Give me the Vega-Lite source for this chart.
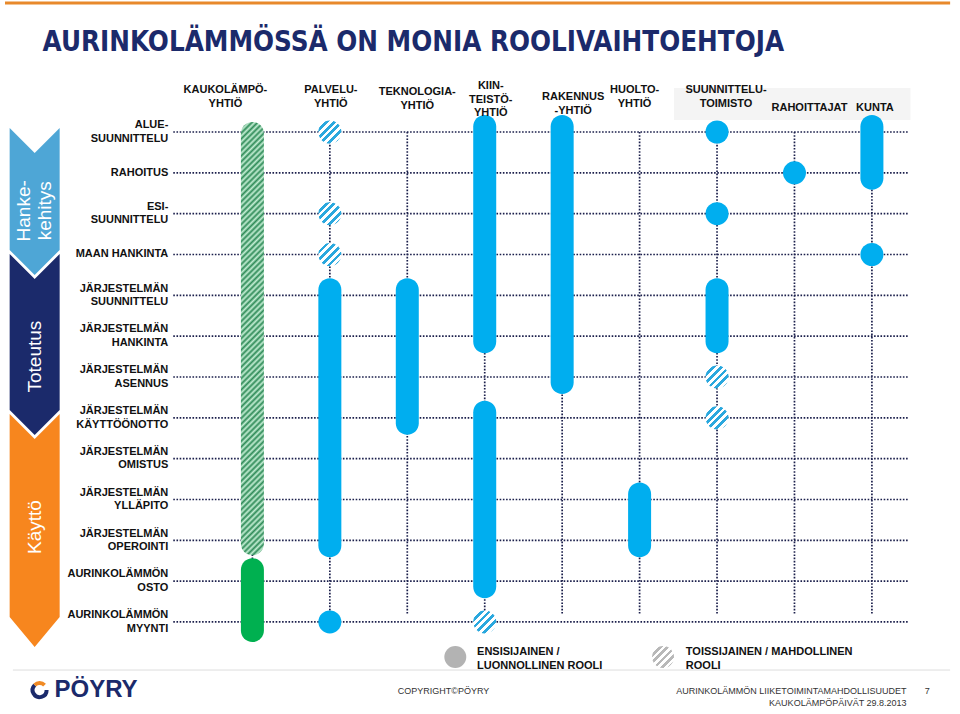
{
  "$schema": "https://vega.github.io/schema/vega-lite/v6.json",
  "width": 960,
  "height": 714,
  "padding": 0,
  "autosize": {"type": "fit", "contains": "padding"},
  "background": "white",
  "config": {"view": {"stroke": null}, "axis": {"disable": true}, "text": {"font": "Liberation Sans"}},
  "datasets": {
    "rows": [
      {"idx": 0, "label": "ALUE-\nSUUNNITTELU"},
      {"idx": 1, "label": "RAHOITUS"},
      {"idx": 2, "label": "ESI-\nSUUNNITTELU"},
      {"idx": 3, "label": "MAAN HANKINTA"},
      {"idx": 4, "label": "JÄRJESTELMÄN\nSUUNNITTELU"},
      {"idx": 5, "label": "JÄRJESTELMÄN\nHANKINTA"},
      {"idx": 6, "label": "JÄRJESTELMÄN\nASENNUS"},
      {"idx": 7, "label": "JÄRJESTELMÄN\nKÄYTTÖÖNOTTO"},
      {"idx": 8, "label": "JÄRJESTELMÄN\nOMISTUS"},
      {"idx": 9, "label": "JÄRJESTELMÄN\nYLLÄPITO"},
      {"idx": 10, "label": "JÄRJESTELMÄN\nOPEROINTI"},
      {"idx": 11, "label": "AURINKOLÄMMÖN\nOSTO"},
      {"idx": 12, "label": "AURINKOLÄMMÖN\nMYYNTI"}
    ],
    "cols": [
      {"col": 1, "actor": "KAUKOLÄMPÖ-\nYHTIÖ"},
      {"col": 2, "actor": "PALVELU-\nYHTIÖ"},
      {"col": 3, "actor": "TEKNOLOGIA-\nYHTIÖ"},
      {"col": 4, "actor": "KIIN-\nTEISTÖ-\nYHTIÖ"},
      {"col": 5, "actor": "RAKENNUS\n-YHTIÖ"},
      {"col": 6, "actor": "HUOLTO-\nYHTIÖ"},
      {"col": 7, "actor": "SUUNNITTELU-\nTOIMISTO"},
      {"col": 8, "actor": "RAHOITTAJAT"},
      {"col": 9, "actor": "KUNTA"}
    ],
    "roles": [
      {"col": 1, "from": 0, "to": 10, "role": "secondary"},
      {"col": 1, "from": 11, "to": 12, "role": "primary"},
      {"col": 2, "from": 0, "to": 0, "role": "secondary"},
      {"col": 2, "from": 2, "to": 2, "role": "secondary"},
      {"col": 2, "from": 3, "to": 3, "role": "secondary"},
      {"col": 2, "from": 4, "to": 10, "role": "primary"},
      {"col": 2, "from": 12, "to": 12, "role": "primary"},
      {"col": 3, "from": 4, "to": 7, "role": "primary"},
      {"col": 4, "from": 0, "to": 5, "role": "primary"},
      {"col": 4, "from": 7, "to": 11, "role": "primary"},
      {"col": 4, "from": 12, "to": 12, "role": "secondary"},
      {"col": 5, "from": 0, "to": 6, "role": "primary"},
      {"col": 6, "from": 9, "to": 10, "role": "primary"},
      {"col": 7, "from": 0, "to": 0, "role": "primary"},
      {"col": 7, "from": 2, "to": 2, "role": "primary"},
      {"col": 7, "from": 4, "to": 5, "role": "primary"},
      {"col": 7, "from": 6, "to": 6, "role": "secondary"},
      {"col": 7, "from": 7, "to": 7, "role": "secondary"},
      {"col": 8, "from": 1, "to": 1, "role": "primary"},
      {"col": 9, "from": 0, "to": 1, "role": "primary"},
      {"col": 9, "from": 3, "to": 3, "role": "primary"}
    ],
    "legend": [
      {"role": "primary", "label": "ENSISIJAINEN /\nLUONNOLLINEN ROOLI"},
      {"role": "secondary", "label": "TOISSIJAINEN / MAHDOLLINEN\nROOLI"}
    ]
  },
  "layer": [
    {
      "data": {"values": [{"t": "band"}]},
      "mark": {"type": "rect", "color": "#f4f4f4"},
      "encoding": {
        "x": {"datum": 6.444, "type": "quantitative", "scale": {"domain": [-2.195, 10.073], "nice": false, "zero": false}, "axis": null},
        "x2": {"datum": 9.498},
        "y": {"datum": -1.078, "type": "quantitative", "scale": {"domain": [-3.233, 14.254], "reverse": true, "nice": false, "zero": false}, "axis": null},
        "y2": {"datum": -0.294}
      }
    },
    {
      "data": {"name": "rows"},
      "mark": {"type": "rule", "color": "#1b1f4b", "strokeWidth": 1.7, "strokeDash": [1.6, 1.6]},
      "encoding": {
        "y": {"field": "idx", "type": "quantitative", "scale": {"domain": [-3.233, 14.254], "reverse": true, "nice": false, "zero": false}, "axis": null},
        "x": {"datum": -0.022, "type": "quantitative", "scale": {"domain": [-2.195, 10.073], "nice": false, "zero": false}, "axis": null},
        "x2": {"datum": 9.473}
      }
    },
    {
      "data": {"name": "cols"},
      "mark": {"type": "rule", "color": "#1b1f4b", "strokeWidth": 1.7, "strokeDash": [1.6, 1.6]},
      "encoding": {
        "x": {"field": "col", "type": "quantitative"},
        "y": {"datum": 0, "type": "quantitative"},
        "y2": {"datum": 11.8}
      }
    },
    {
      "data": {"name": "roles"},
      "transform": [{"filter": "datum.role == 'primary' && datum.from < datum.to && datum.col != 1"}],
      "mark": {"type": "bar", "color": "#00aeef", "width": 23, "cornerRadius": 11.5, "yOffset": -17, "y2Offset": 17},
      "encoding": {
        "x": {"field": "col", "type": "quantitative"},
        "y": {"field": "from", "type": "quantitative"},
        "y2": {"field": "to"}
      }
    },
    {
      "data": {"name": "roles"},
      "transform": [{"filter": "datum.role == 'primary' && datum.from < datum.to && datum.col == 1"}],
      "mark": {"type": "bar", "color": "#00b050", "width": 23, "cornerRadius": 11.5, "yOffset": -23, "y2Offset": 20},
      "encoding": {
        "x": {"field": "col", "type": "quantitative"},
        "y": {"field": "from", "type": "quantitative"},
        "y2": {"field": "to"}
      }
    },
    {
      "data": {"name": "roles"},
      "transform": [{"filter": "datum.role == 'secondary' && datum.from < datum.to"}],
      "mark": {"type": "bar", "width": 23, "cornerRadius": 11.5, "yOffset": -10, "y2Offset": 15,
        "fill": {"gradient": "linear", "x1": 0, "y1": 0, "x2": 0.0556, "y2": 1.05, "stops": [
          {"offset":0,"color":"#2f8b58"},{"offset":0.00625,"color":"#c4eed4"},{"offset":0.0125,"color":"#2f8b58"},{"offset":0.01875,"color":"#c4eed4"},{"offset":0.025,"color":"#2f8b58"},{"offset":0.03125,"color":"#c4eed4"},{"offset":0.0375,"color":"#2f8b58"},{"offset":0.04375,"color":"#c4eed4"},
          {"offset":0.05,"color":"#2f8b58"},{"offset":0.05625,"color":"#c4eed4"},{"offset":0.0625,"color":"#2f8b58"},{"offset":0.06875,"color":"#c4eed4"},{"offset":0.075,"color":"#2f8b58"},{"offset":0.08125,"color":"#c4eed4"},{"offset":0.0875,"color":"#2f8b58"},{"offset":0.09375,"color":"#c4eed4"},
          {"offset":0.1,"color":"#2f8b58"},{"offset":0.10625,"color":"#c4eed4"},{"offset":0.1125,"color":"#2f8b58"},{"offset":0.11875,"color":"#c4eed4"},{"offset":0.125,"color":"#2f8b58"},{"offset":0.13125,"color":"#c4eed4"},{"offset":0.1375,"color":"#2f8b58"},{"offset":0.14375,"color":"#c4eed4"},
          {"offset":0.15,"color":"#2f8b58"},{"offset":0.15625,"color":"#c4eed4"},{"offset":0.1625,"color":"#2f8b58"},{"offset":0.16875,"color":"#c4eed4"},{"offset":0.175,"color":"#2f8b58"},{"offset":0.18125,"color":"#c4eed4"},{"offset":0.1875,"color":"#2f8b58"},{"offset":0.19375,"color":"#c4eed4"},
          {"offset":0.2,"color":"#2f8b58"},{"offset":0.20625,"color":"#c4eed4"},{"offset":0.2125,"color":"#2f8b58"},{"offset":0.21875,"color":"#c4eed4"},{"offset":0.225,"color":"#2f8b58"},{"offset":0.23125,"color":"#c4eed4"},{"offset":0.2375,"color":"#2f8b58"},{"offset":0.24375,"color":"#c4eed4"},
          {"offset":0.25,"color":"#2f8b58"},{"offset":0.25625,"color":"#c4eed4"},{"offset":0.2625,"color":"#2f8b58"},{"offset":0.26875,"color":"#c4eed4"},{"offset":0.275,"color":"#2f8b58"},{"offset":0.28125,"color":"#c4eed4"},{"offset":0.2875,"color":"#2f8b58"},{"offset":0.29375,"color":"#c4eed4"},
          {"offset":0.3,"color":"#2f8b58"},{"offset":0.30625,"color":"#c4eed4"},{"offset":0.3125,"color":"#2f8b58"},{"offset":0.31875,"color":"#c4eed4"},{"offset":0.325,"color":"#2f8b58"},{"offset":0.33125,"color":"#c4eed4"},{"offset":0.3375,"color":"#2f8b58"},{"offset":0.34375,"color":"#c4eed4"},
          {"offset":0.35,"color":"#2f8b58"},{"offset":0.35625,"color":"#c4eed4"},{"offset":0.3625,"color":"#2f8b58"},{"offset":0.36875,"color":"#c4eed4"},{"offset":0.375,"color":"#2f8b58"},{"offset":0.38125,"color":"#c4eed4"},{"offset":0.3875,"color":"#2f8b58"},{"offset":0.39375,"color":"#c4eed4"},
          {"offset":0.4,"color":"#2f8b58"},{"offset":0.40625,"color":"#c4eed4"},{"offset":0.4125,"color":"#2f8b58"},{"offset":0.41875,"color":"#c4eed4"},{"offset":0.425,"color":"#2f8b58"},{"offset":0.43125,"color":"#c4eed4"},{"offset":0.4375,"color":"#2f8b58"},{"offset":0.44375,"color":"#c4eed4"},
          {"offset":0.45,"color":"#2f8b58"},{"offset":0.45625,"color":"#c4eed4"},{"offset":0.4625,"color":"#2f8b58"},{"offset":0.46875,"color":"#c4eed4"},{"offset":0.475,"color":"#2f8b58"},{"offset":0.48125,"color":"#c4eed4"},{"offset":0.4875,"color":"#2f8b58"},{"offset":0.49375,"color":"#c4eed4"},
          {"offset":0.5,"color":"#2f8b58"},{"offset":0.50625,"color":"#c4eed4"},{"offset":0.5125,"color":"#2f8b58"},{"offset":0.51875,"color":"#c4eed4"},{"offset":0.525,"color":"#2f8b58"},{"offset":0.53125,"color":"#c4eed4"},{"offset":0.5375,"color":"#2f8b58"},{"offset":0.54375,"color":"#c4eed4"},
          {"offset":0.55,"color":"#2f8b58"},{"offset":0.55625,"color":"#c4eed4"},{"offset":0.5625,"color":"#2f8b58"},{"offset":0.56875,"color":"#c4eed4"},{"offset":0.575,"color":"#2f8b58"},{"offset":0.58125,"color":"#c4eed4"},{"offset":0.5875,"color":"#2f8b58"},{"offset":0.59375,"color":"#c4eed4"},
          {"offset":0.6,"color":"#2f8b58"},{"offset":0.60625,"color":"#c4eed4"},{"offset":0.6125,"color":"#2f8b58"},{"offset":0.61875,"color":"#c4eed4"},{"offset":0.625,"color":"#2f8b58"},{"offset":0.63125,"color":"#c4eed4"},{"offset":0.6375,"color":"#2f8b58"},{"offset":0.64375,"color":"#c4eed4"},
          {"offset":0.65,"color":"#2f8b58"},{"offset":0.65625,"color":"#c4eed4"},{"offset":0.6625,"color":"#2f8b58"},{"offset":0.66875,"color":"#c4eed4"},{"offset":0.675,"color":"#2f8b58"},{"offset":0.68125,"color":"#c4eed4"},{"offset":0.6875,"color":"#2f8b58"},{"offset":0.69375,"color":"#c4eed4"},
          {"offset":0.7,"color":"#2f8b58"},{"offset":0.70625,"color":"#c4eed4"},{"offset":0.7125,"color":"#2f8b58"},{"offset":0.71875,"color":"#c4eed4"},{"offset":0.725,"color":"#2f8b58"},{"offset":0.73125,"color":"#c4eed4"},{"offset":0.7375,"color":"#2f8b58"},{"offset":0.74375,"color":"#c4eed4"},
          {"offset":0.75,"color":"#2f8b58"},{"offset":0.75625,"color":"#c4eed4"},{"offset":0.7625,"color":"#2f8b58"},{"offset":0.76875,"color":"#c4eed4"},{"offset":0.775,"color":"#2f8b58"},{"offset":0.78125,"color":"#c4eed4"},{"offset":0.7875,"color":"#2f8b58"},{"offset":0.79375,"color":"#c4eed4"},
          {"offset":0.8,"color":"#2f8b58"},{"offset":0.80625,"color":"#c4eed4"},{"offset":0.8125,"color":"#2f8b58"},{"offset":0.81875,"color":"#c4eed4"},{"offset":0.825,"color":"#2f8b58"},{"offset":0.83125,"color":"#c4eed4"},{"offset":0.8375,"color":"#2f8b58"},{"offset":0.84375,"color":"#c4eed4"},
          {"offset":0.85,"color":"#2f8b58"},{"offset":0.85625,"color":"#c4eed4"},{"offset":0.8625,"color":"#2f8b58"},{"offset":0.86875,"color":"#c4eed4"},{"offset":0.875,"color":"#2f8b58"},{"offset":0.88125,"color":"#c4eed4"},{"offset":0.8875,"color":"#2f8b58"},{"offset":0.89375,"color":"#c4eed4"},
          {"offset":0.9,"color":"#2f8b58"},{"offset":0.90625,"color":"#c4eed4"},{"offset":0.9125,"color":"#2f8b58"},{"offset":0.91875,"color":"#c4eed4"},{"offset":0.925,"color":"#2f8b58"},{"offset":0.93125,"color":"#c4eed4"},{"offset":0.9375,"color":"#2f8b58"},{"offset":0.94375,"color":"#c4eed4"},
          {"offset":0.95,"color":"#2f8b58"},{"offset":0.95625,"color":"#c4eed4"},{"offset":0.9625,"color":"#2f8b58"},{"offset":0.96875,"color":"#c4eed4"},{"offset":0.975,"color":"#2f8b58"},{"offset":0.98125,"color":"#c4eed4"},{"offset":0.9875,"color":"#2f8b58"},{"offset":0.99375,"color":"#c4eed4"},
          {"offset":1,"color":"#2f8b58"}
        ]}},
      "encoding": {
        "x": {"field": "col", "type": "quantitative"},
        "y": {"field": "from", "type": "quantitative"},
        "y2": {"field": "to"}
      }
    },
    {
      "data": {"name": "roles"},
      "transform": [{"filter": "datum.role == 'primary' && datum.from == datum.to"}],
      "mark": {"type": "point", "shape": "circle", "filled": true, "opacity": 1, "color": "#00aeef", "size": 529},
      "encoding": {
        "x": {"field": "col", "type": "quantitative"},
        "y": {"field": "from", "type": "quantitative"}
      }
    },
    {
      "data": {"name": "roles"},
      "transform": [{"filter": "datum.role == 'secondary' && datum.from == datum.to"}],
      "mark": {"type": "point", "shape": "circle", "filled": true, "opacity": 1, "size": 529, "strokeWidth": 0,
        "fill": {"gradient": "linear", "x1": 0, "y1": 0, "x2": 1, "y2": 1, "stops": [
          {"offset":0,"color":"#2aa8de"},{"offset":0.083,"color":"#2aa8de"},{"offset":0.083,"color":"#ffffff"},{"offset":0.167,"color":"#ffffff"},
          {"offset":0.167,"color":"#2aa8de"},{"offset":0.25,"color":"#2aa8de"},{"offset":0.25,"color":"#ffffff"},{"offset":0.333,"color":"#ffffff"},
          {"offset":0.333,"color":"#2aa8de"},{"offset":0.417,"color":"#2aa8de"},{"offset":0.417,"color":"#ffffff"},{"offset":0.5,"color":"#ffffff"},
          {"offset":0.5,"color":"#2aa8de"},{"offset":0.583,"color":"#2aa8de"},{"offset":0.583,"color":"#ffffff"},{"offset":0.667,"color":"#ffffff"},
          {"offset":0.667,"color":"#2aa8de"},{"offset":0.75,"color":"#2aa8de"},{"offset":0.75,"color":"#ffffff"},{"offset":0.833,"color":"#ffffff"},
          {"offset":0.833,"color":"#2aa8de"},{"offset":0.917,"color":"#2aa8de"},{"offset":0.917,"color":"#ffffff"},{"offset":1,"color":"#ffffff"}
        ]}},
      "encoding": {
        "x": {"field": "col", "type": "quantitative"},
        "y": {"field": "from", "type": "quantitative"}
      }
    },
    {
      "data": {"name": "rows"},
      "transform": [{"filter": "indexof(datum.label, '\\n') >= 0"}],
      "mark": {"type": "text", "align": "right", "baseline": "middle", "fontSize": 11, "fontWeight": "bold", "color": "#111111", "lineBreak": "\n", "lineHeight": 13.5, "dy": -6.75},
      "encoding": {
        "x": {"datum": -0.086, "type": "quantitative"},
        "y": {"field": "idx", "type": "quantitative"},
        "text": {"field": "label"}
      }
    },
    {
      "data": {"name": "rows"},
      "transform": [{"filter": "indexof(datum.label, '\\n') < 0"}],
      "mark": {"type": "text", "align": "right", "baseline": "middle", "fontSize": 11, "fontWeight": "bold", "color": "#111111"},
      "encoding": {
        "x": {"datum": -0.086, "type": "quantitative"},
        "y": {"field": "idx", "type": "quantitative"},
        "text": {"field": "label"}
      }
    },
    {
      "data": {"name": "cols"},
      "transform": [{"filter": "datum.col == 1"}],
      "mark": {"type": "text", "align": "center", "baseline": "middle", "fontSize": 11, "fontWeight": "bold", "color": "#111111", "lineBreak": "\n", "lineHeight": 14, "dx": -27, "dy": -7},
      "encoding": {"x": {"field": "col", "type": "quantitative"}, "y": {"datum": -0.857, "type": "quantitative"}, "text": {"field": "actor"}}
    },
    {
      "data": {"name": "cols"},
      "transform": [{"filter": "datum.col == 2"}],
      "mark": {"type": "text", "align": "center", "baseline": "middle", "fontSize": 11, "fontWeight": "bold", "color": "#111111", "lineBreak": "\n", "lineHeight": 14, "dx": 1, "dy": -7},
      "encoding": {"x": {"field": "col", "type": "quantitative"}, "y": {"datum": -0.857, "type": "quantitative"}, "text": {"field": "actor"}}
    },
    {
      "data": {"name": "cols"},
      "transform": [{"filter": "datum.col == 3"}],
      "mark": {"type": "text", "align": "center", "baseline": "middle", "fontSize": 11, "fontWeight": "bold", "color": "#111111", "lineBreak": "\n", "lineHeight": 14, "dx": 10, "dy": -7},
      "encoding": {"x": {"field": "col", "type": "quantitative"}, "y": {"datum": -0.82, "type": "quantitative"}, "text": {"field": "actor"}}
    },
    {
      "data": {"name": "cols"},
      "transform": [{"filter": "datum.col == 4"}],
      "mark": {"type": "text", "align": "center", "baseline": "middle", "fontSize": 11, "fontWeight": "bold", "color": "#111111", "lineBreak": "\n", "lineHeight": 13.5, "dx": 6, "dy": -13.5},
      "encoding": {"x": {"field": "col", "type": "quantitative"}, "y": {"datum": -0.796, "type": "quantitative"}, "text": {"field": "actor"}}
    },
    {
      "data": {"name": "cols"},
      "transform": [{"filter": "datum.col == 5"}],
      "mark": {"type": "text", "align": "center", "baseline": "middle", "fontSize": 11, "fontWeight": "bold", "color": "#111111", "lineBreak": "\n", "lineHeight": 14, "dx": 11, "dy": -7},
      "encoding": {"x": {"field": "col", "type": "quantitative"}, "y": {"datum": -0.698, "type": "quantitative"}, "text": {"field": "actor"}}
    },
    {
      "data": {"name": "cols"},
      "transform": [{"filter": "datum.col == 6"}],
      "mark": {"type": "text", "align": "center", "baseline": "middle", "fontSize": 11, "fontWeight": "bold", "color": "#111111", "lineBreak": "\n", "lineHeight": 14, "dx": -5, "dy": -7},
      "encoding": {"x": {"field": "col", "type": "quantitative"}, "y": {"datum": -0.857, "type": "quantitative"}, "text": {"field": "actor"}}
    },
    {
      "data": {"name": "cols"},
      "transform": [{"filter": "datum.col == 7"}],
      "mark": {"type": "text", "align": "center", "baseline": "middle", "fontSize": 11, "fontWeight": "bold", "color": "#111111", "lineBreak": "\n", "lineHeight": 14, "dx": 9, "dy": -7},
      "encoding": {"x": {"field": "col", "type": "quantitative"}, "y": {"datum": -0.857, "type": "quantitative"}, "text": {"field": "actor"}}
    },
    {
      "data": {"name": "cols"},
      "transform": [{"filter": "datum.col == 8"}],
      "mark": {"type": "text", "align": "center", "baseline": "middle", "fontSize": 11, "fontWeight": "bold", "color": "#111111", "dx": 15},
      "encoding": {"x": {"field": "col", "type": "quantitative"}, "y": {"datum": -0.588, "type": "quantitative"}, "text": {"field": "actor"}}
    },
    {
      "data": {"name": "cols"},
      "transform": [{"filter": "datum.col == 9"}],
      "mark": {"type": "text", "align": "center", "baseline": "middle", "fontSize": 11, "fontWeight": "bold", "color": "#111111", "dx": 3},
      "encoding": {"x": {"field": "col", "type": "quantitative"}, "y": {"datum": -0.588, "type": "quantitative"}, "text": {"field": "actor"}}
    },
    {
      "data": {"values": [{"phase": "Hanke-\nkehitys"}]},
      "mark": {"type": "point", "filled": true, "opacity": 1, "color": "#4ea6d6", "strokeWidth": 0, "size": 2500,
        "shape": "M-1,-2.88L0,-1.88L1,-2.88L1,2L0,3L-1,2Z"},
      "encoding": {"x": {"datum": -1.812, "type": "quantitative"}, "y": {"datum": 1.665, "type": "quantitative"}}
    },
    {
      "data": {"values": [{"phase": "Toteutus"}]},
      "mark": {"type": "point", "filled": true, "opacity": 1, "color": "#1b2a6b", "strokeWidth": 0, "size": 2500,
        "shape": "M-1,-3.62L0,-2.62L1,-3.62L1,2.62L0,3.62L-1,2.62Z"},
      "encoding": {"x": {"datum": -1.812, "type": "quantitative"}, "y": {"datum": 5.204, "type": "quantitative"}}
    },
    {
      "data": {"values": [{"phase": "Käyttö"}]},
      "mark": {"type": "point", "filled": true, "opacity": 1, "color": "#f7861e", "strokeWidth": 0, "size": 2500,
        "shape": "M-1,-4.66L0,-3.66L1,-4.66L1,3.46L0,4.66L-1,3.46Z"},
      "encoding": {"x": {"datum": -1.812, "type": "quantitative"}, "y": {"datum": 9.76, "type": "quantitative"}}
    },
    {
      "data": {"values": [{"phase": "Hanke-\nkehitys"}]},
      "mark": {"type": "text", "angle": 270, "align": "center", "baseline": "middle", "fontSize": 19, "color": "white", "lineBreak": "\n", "lineHeight": 21, "dy": -10.5},
      "encoding": {"x": {"datum": -1.812, "type": "quantitative"}, "y": {"datum": 1.93, "type": "quantitative"}, "text": {"field": "phase"}}
    },
    {
      "data": {"values": [{"phase": "Toteutus"}]},
      "mark": {"type": "text", "angle": 270, "align": "center", "baseline": "middle", "fontSize": 19, "color": "white"},
      "encoding": {"x": {"datum": -1.812, "type": "quantitative"}, "y": {"datum": 5.5, "type": "quantitative"}, "text": {"field": "phase"}}
    },
    {
      "data": {"values": [{"phase": "Käyttö"}]},
      "mark": {"type": "text", "angle": 270, "align": "center", "baseline": "middle", "fontSize": 19, "color": "white"},
      "encoding": {"x": {"datum": -1.812, "type": "quantitative"}, "y": {"datum": 9.674, "type": "quantitative"}, "text": {"field": "phase"}}
    },
    {
      "data": {"values": [{"t": "top"}]},
      "mark": {"type": "rule", "color": "#e8892b", "strokeWidth": 3},
      "encoding": {"x": {"datum": -2.195, "type": "quantitative"}, "x2": {"datum": 10.01}, "y": {"datum": -3.16, "type": "quantitative"}}
    },
    {
      "data": {"values": [{"t": "AURINKOLÄMMÖSSÄ ON MONIA ROOLIVAIHTOEHTOJA"}]},
      "mark": {"type": "text", "align": "left", "baseline": "middle", "font": "'DejaVu Sans Condensed', 'Liberation Sans', sans-serif", "fontSize": 27.5, "fontWeight": "bold", "color": "#1b2a6b", "dx": -4},
      "encoding": {"x": {"datum": -1.658, "type": "quantitative"}, "y": {"datum": -2.18, "type": "quantitative"}, "text": {"field": "t"}}
    },
    {
      "data": {"name": "legend"},
      "transform": [{"filter": "datum.role == 'primary'"}],
      "mark": {"type": "point", "shape": "circle", "filled": true, "opacity": 1, "color": "#b3b3b3", "size": 480},
      "encoding": {"x": {"datum": 3.62, "type": "quantitative"}, "y": {"datum": 12.858, "type": "quantitative"}}
    },
    {
      "data": {"name": "legend"},
      "transform": [{"filter": "datum.role == 'secondary'"}],
      "mark": {"type": "point", "shape": "circle", "filled": true, "opacity": 1, "size": 480, "strokeWidth": 0,
        "fill": {"gradient": "linear", "x1": 0, "y1": 0, "x2": 1, "y2": 1, "stops": [
          {"offset":0,"color":"#b8b8b8"},{"offset":0.083,"color":"#b8b8b8"},{"offset":0.083,"color":"#ffffff"},{"offset":0.167,"color":"#ffffff"},
          {"offset":0.167,"color":"#b8b8b8"},{"offset":0.25,"color":"#b8b8b8"},{"offset":0.25,"color":"#ffffff"},{"offset":0.333,"color":"#ffffff"},
          {"offset":0.333,"color":"#b8b8b8"},{"offset":0.417,"color":"#b8b8b8"},{"offset":0.417,"color":"#ffffff"},{"offset":0.5,"color":"#ffffff"},
          {"offset":0.5,"color":"#b8b8b8"},{"offset":0.583,"color":"#b8b8b8"},{"offset":0.583,"color":"#ffffff"},{"offset":0.667,"color":"#ffffff"},
          {"offset":0.667,"color":"#b8b8b8"},{"offset":0.75,"color":"#b8b8b8"},{"offset":0.75,"color":"#ffffff"},{"offset":0.833,"color":"#ffffff"},
          {"offset":0.833,"color":"#b8b8b8"},{"offset":0.917,"color":"#b8b8b8"},{"offset":0.917,"color":"#ffffff"},{"offset":1,"color":"#ffffff"}
        ]}},
      "encoding": {"x": {"datum": 6.303, "type": "quantitative"}, "y": {"datum": 12.858, "type": "quantitative"}}
    },
    {
      "data": {"name": "legend"},
      "transform": [{"filter": "datum.role == 'primary'"}],
      "mark": {"type": "text", "align": "left", "baseline": "middle", "fontSize": 11, "fontWeight": "bold", "color": "#111111", "lineBreak": "\n", "lineHeight": 14, "dy": -7},
      "encoding": {"x": {"datum": 3.901, "type": "quantitative"}, "y": {"datum": 12.907, "type": "quantitative"}, "text": {"field": "label"}}
    },
    {
      "data": {"name": "legend"},
      "transform": [{"filter": "datum.role == 'secondary'"}],
      "mark": {"type": "text", "align": "left", "baseline": "middle", "fontSize": 11, "fontWeight": "bold", "color": "#111111", "lineBreak": "\n", "lineHeight": 14, "dy": -7},
      "encoding": {"x": {"datum": 6.597, "type": "quantitative"}, "y": {"datum": 12.907, "type": "quantitative"}, "text": {"field": "label"}}
    },
    {
      "data": {"values": [{"t": "sep"}]},
      "mark": {"type": "rule", "color": "#dddddd", "strokeWidth": 1},
      "encoding": {"x": {"datum": -2.093, "type": "quantitative"}, "x2": {"datum": 10.01}, "y": {"datum": 13.177, "type": "quantitative"}}
    },
    {
      "data": {"values": [{"t": "COPYRIGHT©PÖYRY"}]},
      "mark": {"type": "text", "align": "left", "baseline": "middle", "fontSize": 9, "color": "#333333"},
      "encoding": {"x": {"datum": 2.878, "type": "quantitative"}, "y": {"datum": 13.691, "type": "quantitative"}, "text": {"field": "t"}}
    },
    {
      "data": {"values": [{"t": "AURINKOLÄMMÖN LIIKETOIMINTAMAHDOLLISUUDET\nKAUKOLÄMPÖPÄIVÄT 29.8.2013"}]},
      "mark": {"type": "text", "align": "right", "baseline": "middle", "fontSize": 9, "color": "#333333", "lineBreak": "\n", "lineHeight": 12},
      "encoding": {"x": {"datum": 9.447, "type": "quantitative"}, "y": {"datum": 13.691, "type": "quantitative"}, "text": {"field": "t"}}
    },
    {
      "data": {"values": [{"t": "7"}]},
      "mark": {"type": "text", "align": "center", "baseline": "middle", "fontSize": 9, "color": "#333333"},
      "encoding": {"x": {"datum": 9.716, "type": "quantitative"}, "y": {"datum": 13.691, "type": "quantitative"}, "text": {"field": "t"}}
    },
    {
      "data": {"values": [{"t": "PÖYRY"}]},
      "mark": {"type": "text", "align": "left", "baseline": "middle", "fontSize": 24, "fontWeight": "bold", "color": "#1b2a6b"},
      "encoding": {"x": {"datum": -1.556, "type": "quantitative"}, "y": {"datum": 13.666, "type": "quantitative"}, "text": {"field": "t"}}
    },
    {
      "data": {"values": [{"t": "logo"}]},
      "mark": {"type": "point", "filled": false, "opacity": 1, "color": "#1b2a6b", "strokeWidth": 4, "size": 196, "shape": "M1,0A1,1 0 1 1 -0.7,-0.7"},
      "encoding": {"x": {"datum": -1.748, "type": "quantitative"}, "y": {"datum": 13.666, "type": "quantitative"}}
    },
    {
      "data": {"values": [{"t": "logo"}]},
      "mark": {"type": "point", "filled": false, "opacity": 1, "color": "#f08a24", "strokeWidth": 4, "size": 196, "shape": "M-0.7,-0.7A1,1 0 0 1 0.7,-0.7"},
      "encoding": {"x": {"datum": -1.748, "type": "quantitative"}, "y": {"datum": 13.666, "type": "quantitative"}}
    }
  ]
}
